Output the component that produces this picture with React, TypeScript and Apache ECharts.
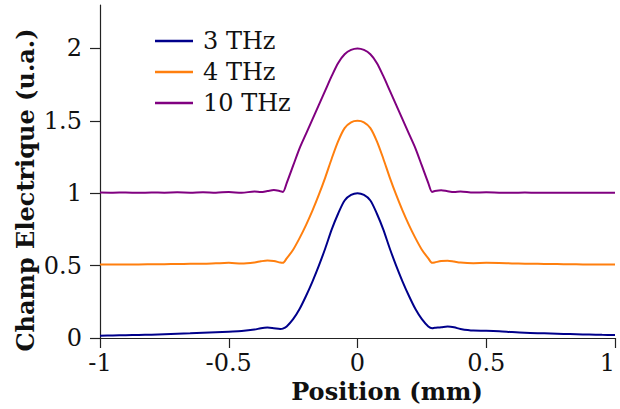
import React, { useEffect, useRef } from "react";
import * as echarts from "echarts";

const xs = [
  -1, -0.95, -0.9, -0.85, -0.8, -0.75, -0.7, -0.65, -0.6, -0.55, -0.5, -0.45, -0.4,
  -0.375, -0.35, -0.325, -0.3, -0.29,
  -0.275, -0.25, -0.225, -0.2, -0.175, -0.15, -0.125, -0.1, -0.075, -0.05, -0.025, 0,
  0.025, 0.05, 0.075, 0.1, 0.125, 0.15, 0.175, 0.2, 0.225, 0.25, 0.275,
  0.29, 0.3, 0.325, 0.35, 0.375,
  0.4, 0.45, 0.5, 0.55, 0.6, 0.65, 0.7, 0.75, 0.8, 0.85, 0.9, 0.95, 1,
];

const thz3 = [
  0.016, 0.018, 0.019, 0.021, 0.023, 0.026, 0.029, 0.032, 0.036, 0.04, 0.044, 0.048, 0.058,
  0.068, 0.072, 0.068, 0.063, 0.065,
  0.08, 0.13, 0.2, 0.29, 0.39, 0.5, 0.62, 0.75, 0.86, 0.95, 0.988, 1.0,
  0.988, 0.95, 0.86, 0.75, 0.62, 0.5, 0.39, 0.29, 0.2, 0.13, 0.08,
  0.068, 0.07, 0.074, 0.079, 0.074,
  0.062, 0.051, 0.05, 0.047, 0.041, 0.036, 0.033, 0.031, 0.028, 0.026, 0.024, 0.022, 0.021,
];

const thz4 = [
  0.507, 0.507, 0.508, 0.508, 0.509, 0.51, 0.511, 0.512, 0.513, 0.516, 0.519, 0.515, 0.522,
  0.53, 0.535, 0.532, 0.521, 0.519,
  0.55, 0.61, 0.69, 0.78, 0.88, 0.99, 1.11, 1.24, 1.36, 1.45, 1.49, 1.5,
  1.49, 1.45, 1.36, 1.24, 1.11, 0.99, 0.88, 0.78, 0.69, 0.61, 0.55,
  0.519, 0.522, 0.532, 0.534, 0.528,
  0.521, 0.517, 0.519, 0.518, 0.515, 0.513, 0.512, 0.511, 0.51, 0.509, 0.508, 0.507, 0.507,
];

const thz10 = [
  1.005, 1.004, 1.005, 1.003, 1.005, 1.004, 1.006, 1.004, 1.007, 1.004, 1.008, 1.003, 1.012,
  1.008, 1.015, 1.022, 1.014, 1.009,
  1.07, 1.19, 1.31, 1.41, 1.51, 1.61, 1.71, 1.81, 1.9, 1.96, 1.99, 2.0,
  1.99, 1.96, 1.9, 1.81, 1.71, 1.61, 1.51, 1.41, 1.31, 1.19, 1.07,
  1.009, 1.015, 1.021, 1.014, 1.009,
  1.012, 1.005, 1.006, 1.004, 1.003, 1.005, 1.003, 1.004, 1.003, 1.004, 1.003, 1.004, 1.003,
];

const seriesNames = ["3 THz", "4 THz", "10 THz"];
const seriesColors = ["#00008b", "#ff7f0e", "#800080"];
const yTickValues = [0, 0.5, 1, 1.5, 2];

const FONT = '"DejaVu Serif", serif';

export default function App() {
  const ref = useRef<HTMLDivElement>(null);

  useEffect(() => {
    if (!ref.current) return;
    const chart = echarts.init(ref.current, null, { renderer: "svg" });
    const allY = [thz3, thz4, thz10];
    const axisColor = "#222";
    chart.setOption({
      animation: false,
      backgroundColor: "#fff",
      grid: {
        left: 100,
        right: 5,
        top: 5,
        bottom: 71,
        containLabel: false,
        outerBoundsMode: "none",
      },
      legend: {
        orient: "vertical",
        left: 150,
        top: 24,
        icon: "rect",
        itemWidth: 38,
        itemHeight: 2.5,
        itemGap: 7,
        textStyle: { fontFamily: FONT, fontSize: 24, color: "#111", padding: [0, 0, 0, 5] },
        data: seriesNames.map((name, i) => ({ name, itemStyle: { color: seriesColors[i] } })),
      },
      xAxis: {
        type: "value",
        min: -1,
        max: 1,
        interval: 0.5,
        axisLine: { show: true, onZero: false, lineStyle: { color: axisColor, width: 1.2 } },
        axisTick: { show: true, inside: false, length: 10, lineStyle: { color: axisColor, width: 1.2 } },
        axisLabel: {
          fontFamily: FONT,
          fontSize: 24,
          color: "#111",
          margin: 13,
          alignMaxLabel: "right",
        },
        splitLine: { show: false },
      },
      yAxis: {
        type: "value",
        min: 0,
        max: 2.3,
        interval: 0.5,
        axisLine: { show: true, onZero: false, lineStyle: { color: axisColor, width: 1.2 } },
        axisTick: {
          show: true,
          inside: false,
          length: 10,
          lineStyle: { color: axisColor, width: 1.2 },
          customValues: yTickValues,
        },
        axisLabel: {
          fontFamily: FONT,
          fontSize: 24,
          color: "#111",
          margin: 18,
          customValues: yTickValues,
        },
        splitLine: { show: false },
      },
      graphic: [
        {
          type: "text",
          x: 25,
          y: 190,
          rotation: Math.PI / 2,
          style: {
            text: "Champ Electrique (u.a.)",
            font: 'bold 24px "DejaVu Serif", serif',
            fill: "#111",
            textAlign: "center",
            textVerticalAlign: "middle",
          },
        },
        {
          type: "text",
          x: 387,
          y: 391,
          style: {
            text: "Position (mm)",
            font: 'bold 24px "DejaVu Serif", serif',
            fill: "#111",
            textAlign: "center",
            textVerticalAlign: "middle",
          },
        },
      ],
      series: seriesNames.map((name, i) => ({
        name,
        type: "line",
        data: xs.map((x, j) => [x, allY[i][j]]),
        showSymbol: false,
        symbol: "none",
        smooth: 0.3,
        color: seriesColors[i],
        lineStyle: { width: 2, color: seriesColors[i] },
      })),
    });
    return () => chart.dispose();
  }, []);

  return (
    <div
      ref={ref}
      style={{ position: "fixed", left: 0, top: 0, width: 620, height: 409 }}
    />
  );
}
